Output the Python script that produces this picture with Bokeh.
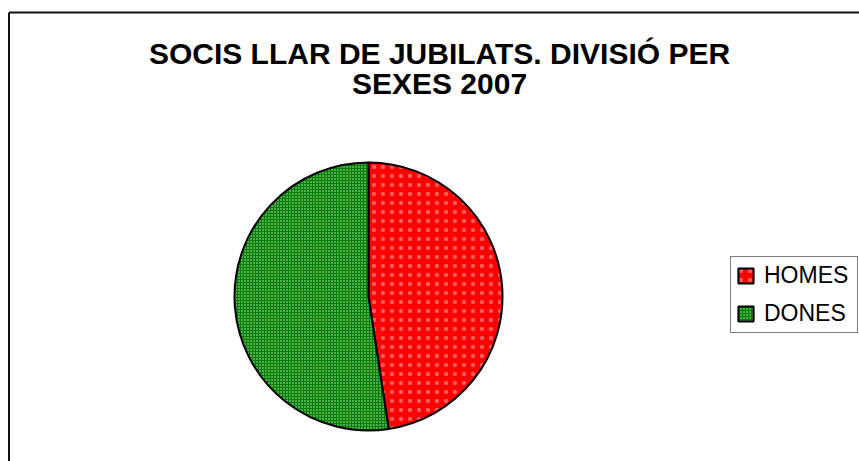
import math
from bokeh.plotting import figure
from bokeh.models import Range1d, Label, Legend, LegendItem
from bokeh.embed import file_html
from bokeh.resources import INLINE

# ---- data ----
TITLE_LINES = ["SOCIS LLAR DE JUBILATS. DIVISIÓ PER", "SEXES 2007"]
categories = ["HOMES", "DONES"]
values = [47.6, 52.4]

# ---- styles ----
fill_colors = ["#FF0000", "#008000"]
hatch_scales = [9, 3]
hatch_weights = [0.3, 0.4]
hatch_alphas = [0.35, 0.8]

W, H = 859, 461
p = figure(width=W, height=H, output_backend="svg", toolbar_location=None,
           x_range=Range1d(0, W), y_range=Range1d(0, H),
           x_axis_location=None, y_axis_location=None,
           min_border=0, min_border_left=0, min_border_right=0,
           min_border_top=0, min_border_bottom=0)
p.xgrid.visible = False
p.ygrid.visible = False
p.outline_line_color = None
p.background_fill_color = "white"
p.border_fill_color = "white"

# chart border (top and left visible, rest cropped by window)
p.segment(x0=[8.5, 8.5], y0=[449, -20], x1=[W + 20, 8.5], y1=[449, 449],
          line_color="#111111", line_width=2)

# pie
cx, cy, r = 368, 165, 134
total = sum(values)
start = math.pi / 2
items = []
for i, (cat, v) in enumerate(zip(categories, values)):
    end = start - 2 * math.pi * v / total
    rend = p.wedge(x=[cx], y=[cy], radius=r, start_angle=[start], end_angle=[end],
                   direction="clock", fill_color=fill_colors[i],
                   hatch_pattern="dot", hatch_color="white",
                   hatch_scale=hatch_scales[i], hatch_weight=hatch_weights[i],
                   hatch_alpha=hatch_alphas[i],
                   line_color="black", line_width=2)
    items.append(LegendItem(label=cat, renderers=[rend]))
    start = end

# title
for j, line in enumerate(TITLE_LINES):
    p.add_layout(Label(x=439, y=408 - 30 * j, text=line, text_align="center",
                       text_baseline="alphabetic", text_font="Liberation Sans",
                       text_font_style="bold", text_font_size="30px",
                       text_color="black"))

legend = Legend(items=items, location=(730, 128), orientation="vertical",
                label_text_font="Liberation Sans", label_text_font_size="23px",
                label_text_color="black", glyph_width=19, glyph_height=19,
                label_height=24, label_width=88, label_standoff=9, spacing=11,
                padding=5, margin=0, border_line_color="black",
                border_line_width=1, background_fill_color="white",
                background_fill_alpha=1)
p.add_layout(legend)

open("out.html", "w").write(file_html(p, INLINE))
